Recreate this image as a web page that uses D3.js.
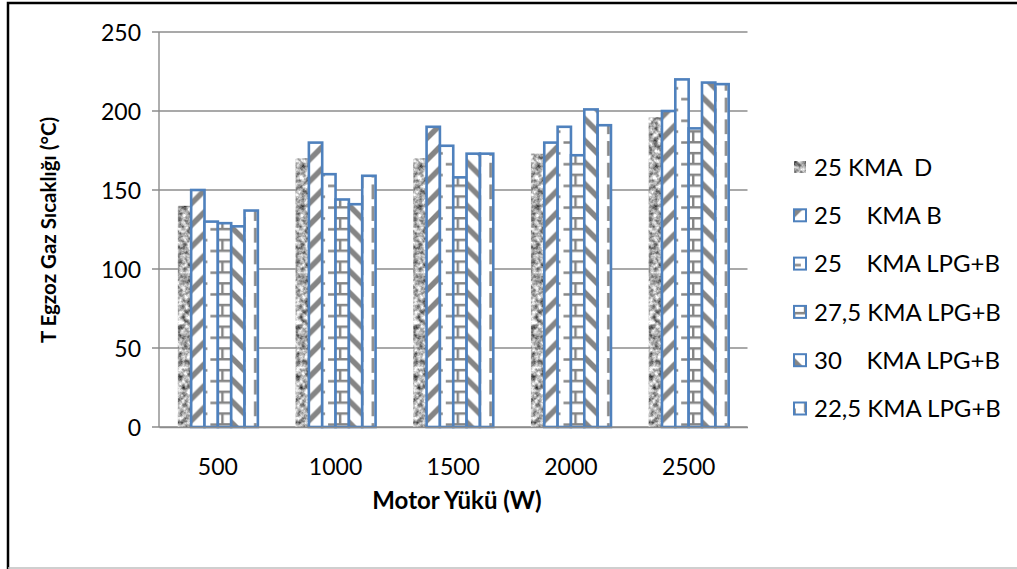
<!DOCTYPE html>
<html>
<head>
<meta charset="utf-8">
<script src="https://cdn.jsdelivr.net/npm/d3@7"></script>
<style>
  body { margin: 0; background: #fff; }
  svg { display: block; font-family: Lato, "Open Sans", sans-serif; }
</style>
</head>
<body>
<div id="chart"></div>
<script>
// Data
var loads = ["500", "1000", "1500", "2000", "2500"];
var seriesNames = ["25 KMA  D", "25    KMA B", "25    KMA LPG+B", "27,5 KMA LPG+B", "30    KMA LPG+B", "22,5 KMA LPG+B"];
var kma25D      = [140, 170, 170, 173, 196];
var kma25B      = [150, 180, 190, 180, 200];
var kma25LPG    = [130, 160, 178, 190, 220];
var kma275LPG   = [129, 144, 158, 172, 189];
var kma30LPG    = [127, 141, 173, 201, 218];
var kma225LPG   = [137, 159, 173, 191, 217];
var yTicks = [0, 50, 100, 150, 200, 250];

var seriesValues = [kma25D, kma25B, kma25LPG, kma275LPG, kma30LPG, kma225LPG];
var fills = ["url(#granite)", "url(#upDiag)", "url(#dashH)", "url(#brick)", "url(#downDiag)", "url(#dashV)"];

var W = 1017, H = 569;
var margin = {left: 159, right: 1017 - 747.5, top: 32, bottom: 569 - 427};

var svg = d3.select("#chart").append("svg")
  .attr("width", W)
  .attr("height", H);

svg.append("rect").attr("width", W).attr("height", H).attr("fill", "#fff");

//////// patterns ////////
var defs = svg.append("defs");
var T = 21.7, G = "#858585";

// granite texture for the first series
var f = defs.append("filter").attr("id", "graniteF")
  .attr("x", 0).attr("y", 0).attr("width", 1).attr("height", 1)
  .attr("color-interpolation-filters", "sRGB");
f.append("feTurbulence").attr("type", "fractalNoise")
  .attr("baseFrequency", 0.2).attr("numOctaves", 3).attr("seed", 7).attr("result", "n");
f.append("feColorMatrix").attr("in", "n").attr("type", "matrix")
  .attr("values", "1.3 0 0 0 0.03  1.3 0 0 0 0.03  1.3 0 0 0 0.03  0 0 0 0 1")
  .attr("result", "g");
f.append("feComposite").attr("in", "g").attr("in2", "SourceGraphic").attr("operator", "in");

var p;
p = defs.append("pattern").attr("id", "upDiag").attr("patternUnits", "userSpaceOnUse")
  .attr("width", T).attr("height", T);
p.append("rect").attr("width", T).attr("height", T).attr("fill", "#fff");
p.append("path").attr("d", "M" + (-T/2) + "," + (T/2) + "L" + (T/2) + "," + (-T/2) +
    "M0," + T + "L" + T + ",0M" + (T/2) + "," + (T*1.5) + "L" + (T*1.5) + "," + (T/2))
  .attr("stroke", G).attr("stroke-width", 5.5);

p = defs.append("pattern").attr("id", "downDiag").attr("patternUnits", "userSpaceOnUse")
  .attr("width", T).attr("height", T);
p.append("rect").attr("width", T).attr("height", T).attr("fill", "#fff");
p.append("path").attr("d", "M" + (-T/2) + "," + (T/2) + "L" + (T/2) + "," + (T*1.5) +
    "M0,0L" + T + "," + T + "M" + (T/2) + "," + (-T/2) + "L" + (T*1.5) + "," + (T/2))
  .attr("stroke", G).attr("stroke-width", 5.5);

p = defs.append("pattern").attr("id", "dashH").attr("patternUnits", "userSpaceOnUse")
  .attr("width", T).attr("height", T);
p.append("rect").attr("width", T).attr("height", T).attr("fill", "#fff");
p.append("path").attr("d", "M0,1.5H" + (T/2 - 3) + "M" + (T/2) + "," + (T/2 + 1.5) + "H" + (T - 3))
  .attr("stroke", G).attr("stroke-width", 2.6);

p = defs.append("pattern").attr("id", "dashV").attr("patternUnits", "userSpaceOnUse")
  .attr("width", T).attr("height", T);
p.append("rect").attr("width", T).attr("height", T).attr("fill", "#fff");
p.append("path").attr("d", "M1.5,0V" + (T/2 + 4) + "M" + (T/2 + 1.5) + "," + (T/2) + "V" + (T + 4) +
    "M" + (T/2 + 1.5) + ",0V4")
  .attr("stroke", G).attr("stroke-width", 2.6);

p = defs.append("pattern").attr("id", "brick").attr("patternUnits", "userSpaceOnUse")
  .attr("width", T).attr("height", T);
p.append("rect").attr("width", T).attr("height", T).attr("fill", "#fff");
p.append("path").attr("d", "M0,1.2H" + T + "M0," + (T/2 + 1.2) + "H" + T +
    "M1.2,0V" + (T/2) + "M" + (T/2 + 1.2) + "," + (T/2) + "V" + T)
  .attr("stroke", G).attr("stroke-width", 2.4);

//////// scales ////////
var x0 = d3.scaleBand().domain(loads)
  .range([margin.left, W - margin.right])
  .paddingInner(0.32).paddingOuter(0.16);
var x1 = d3.scaleBand().domain(d3.range(seriesValues.length))
  .range([0, x0.bandwidth()]);
var y = d3.scaleLinear().domain([0, 250]).range([H - margin.bottom, margin.top]);

// outer frame
svg.append("path")
  .attr("d", "M8," + H + "V3H" + W)
  .attr("fill", "none").attr("stroke", "#000").attr("stroke-width", 2.5);
svg.append("line").attr("x1", 8).attr("x2", W).attr("y1", 568).attr("y2", 568)
  .attr("stroke", "#bfbfbf").attr("stroke-width", 1.5);

// gridlines
svg.append("g").selectAll("line").data(yTicks).enter().append("line")
  .attr("x1", margin.left - 7).attr("x2", W - margin.right)
  .attr("y1", function(d){ return y(d); }).attr("y2", function(d){ return y(d); })
  .attr("stroke", "#8c8c8c").attr("stroke-width", 1.4);

// bars
var groups = svg.append("g").selectAll("g").data(loads).enter().append("g")
  .attr("transform", function(d){ return "translate(" + x0(d) + ",0)"; });

groups.selectAll("rect")
  .data(function(d, i){ return seriesValues.map(function(s, k){ return {k: k, v: s[i]}; }); })
  .enter().append("rect")
  .attr("x", function(d){ return x1(d.k); })
  .attr("y", function(d){ return y(d.v); })
  .attr("width", x1.bandwidth())
  .attr("height", function(d){ return y(0) - y(d.v); })
  .attr("fill", function(d){ return d.k === 0 ? "#999" : fills[d.k]; })
  .attr("filter", function(d){ return d.k === 0 ? "url(#graniteF)" : null; })
  .attr("stroke", function(d){ return d.k === 0 ? "none" : "#4f81bd"; })
  .attr("stroke-width", 2.6);

// y axis line
svg.append("line").attr("x1", margin.left).attr("x2", margin.left)
  .attr("y1", y(0)).attr("y2", y(250))
  .attr("stroke", "#8c8c8c").attr("stroke-width", 1.4);

// axis labels via d3 axes
var yAxis = svg.append("g").attr("transform", "translate(" + (margin.left - 18) + ",0)")
  .call(d3.axisLeft(y).tickValues(yTicks).tickSize(0).tickPadding(0));
yAxis.select(".domain").remove();
yAxis.selectAll("text").attr("font-size", 23).attr("font-family", "Lato").attr("fill", "#000")
  .attr("dy", "0.36em");

var xAxis = svg.append("g").attr("transform", "translate(0," + y(0) + ")")
  .call(d3.axisBottom(x0).tickSize(0).tickPadding(32));
xAxis.select(".domain").attr("stroke", "#8c8c8c").attr("stroke-width", 1.4);
xAxis.selectAll("text").attr("font-size", 23).attr("font-family", "Lato").attr("fill", "#000");

// axis titles
svg.append("text")
  .attr("transform", "translate(56,230) rotate(-90)")
  .attr("text-anchor", "middle")
  .attr("font-size", 20.5).attr("font-weight", "bold")
  .text("T Egzoz Gaz Sıcaklığı (°C)");

svg.append("text")
  .attr("x", 457).attr("y", 509)
  .attr("text-anchor", "middle")
  .attr("font-size", 24).attr("font-weight", "bold")
  .text("Motor Yükü (W)");

// legend
var legend = svg.append("g").attr("transform", "translate(793,167)");
var item = legend.selectAll("g").data(seriesNames).enter().append("g")
  .attr("transform", function(d, i){ return "translate(0," + (i * 48.3) + ")"; });
item.append("rect")
  .attr("x", 1).attr("y", -6).attr("width", 12).attr("height", 12)
  .attr("fill", function(d, i){ return i === 0 ? "#999" : fills[i]; })
  .attr("filter", function(d, i){ return i === 0 ? "url(#graniteF)" : null; })
  .attr("stroke", function(d, i){ return i === 0 ? "none" : "#4f81bd"; })
  .attr("stroke-width", 2);
item.append("text")
  .attr("x", 21).attr("y", 0).attr("dy", "0.36em")
  .attr("font-size", 24)
  .style("white-space", "pre")
  .text(function(d){ return d; });
</script>
</body>
</html>
